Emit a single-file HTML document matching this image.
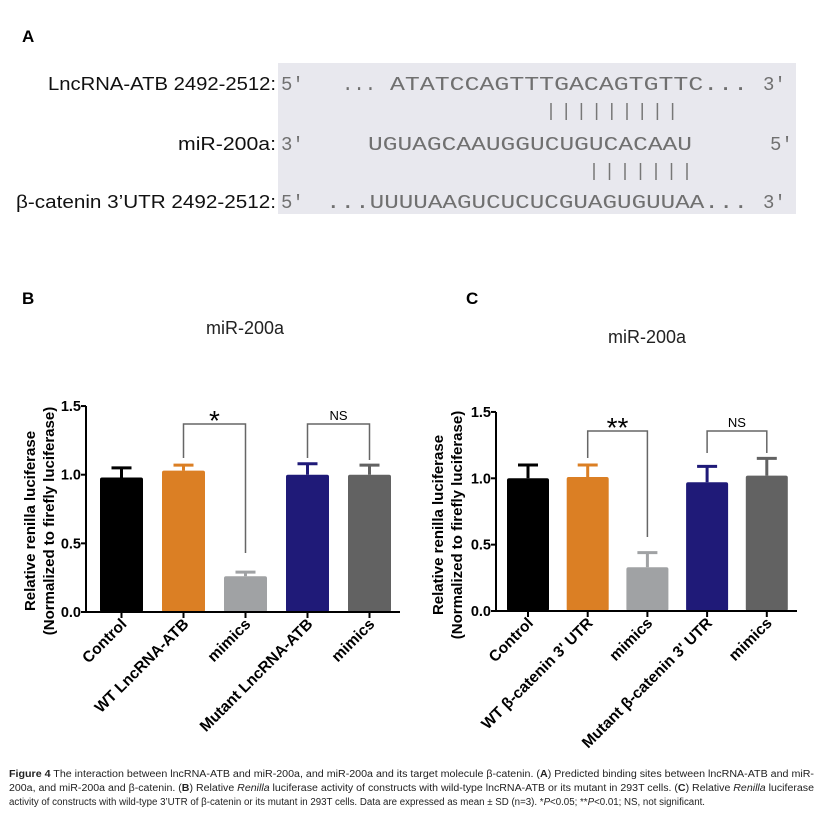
<!DOCTYPE html>
<html><head><meta charset="utf-8"><style>
body{margin:0;background:#fff}
svg{display:block}
text{font-family:"Liberation Sans",sans-serif}
.mono{font-family:"Liberation Mono",monospace;fill:#707070;font-size:19px}
</style></head><body>
<svg id="fig" width="823" height="818" viewBox="0 0 823 818">
<g>
<text x="22" y="42" font-size="17" font-weight="bold">A</text>
<rect x="278" y="63" width="518" height="151" fill="#e8e8ee"/>
<g font-size="18" text-anchor="end" fill="#111">
<text x="276" y="90" textLength="228" lengthAdjust="spacingAndGlyphs">LncRNA-ATB 2492-2512:</text>
<text x="276" y="150" textLength="98" lengthAdjust="spacingAndGlyphs">miR-200a:</text>
<text x="276" y="208" textLength="260" lengthAdjust="spacingAndGlyphs">β-catenin 3’UTR 2492-2512:</text>
</g>
<g class="mono">
<text class="mono" x="281" y="90">5'</text>
<text class="mono" x="342" y="90">...</text>
<text class="mono" x="390" y="90" textLength="358" lengthAdjust="spacingAndGlyphs">ATATCCAGTTTGACAGTGTTC...</text>
<text class="mono" x="763" y="90">3'</text>
<text class="mono" x="281" y="150">3'</text>
<text class="mono" x="368" y="150" textLength="324" lengthAdjust="spacingAndGlyphs">UGUAGCAAUGGUCUGUCACAAU</text>
<text class="mono" x="770" y="150">5'</text>
<text class="mono" x="281" y="208">5'</text>
<text class="mono" x="326" y="208" textLength="422" lengthAdjust="spacingAndGlyphs">...UUUUAAGUCUCUCGUAGUGUUAA...</text>
<text class="mono" x="763" y="208">3'</text>
</g>
<g id="pipes" stroke="#777" stroke-width="1.5"></g>
</g>
<g id="pb"></g>
<g id="pc"></g>
<g font-size="10" fill="#222">
<text x="9" y="777" textLength="805" lengthAdjust="spacingAndGlyphs"><tspan font-weight="bold">Figure 4</tspan> The interaction between lncRNA-ATB and miR-200a, and miR-200a and its target molecule β-catenin. (<tspan font-weight="bold">A</tspan>) Predicted binding sites between lncRNA-ATB and miR-</text>
<text x="9" y="791" textLength="805" lengthAdjust="spacingAndGlyphs">200a, and miR-200a and β-catenin. (<tspan font-weight="bold">B</tspan>) Relative <tspan font-style="italic">Renilla</tspan> luciferase activity of constructs with wild-type lncRNA-ATB or its mutant in 293T cells. (<tspan font-weight="bold">C</tspan>) Relative <tspan font-style="italic">Renilla</tspan> luciferase</text>
<text x="9" y="805" textLength="696" lengthAdjust="spacingAndGlyphs">activity of constructs with wild-type 3’UTR of β-catenin or its mutant in 293T cells. Data are expressed as mean ± SD (n=3). *<tspan font-style="italic">P</tspan>&lt;0.05; **<tspan font-style="italic">P</tspan>&lt;0.01; NS, not significant.</text>
</g>
</svg>
<script>
const catsB = ["Control","WT LncRNA-ATB","mimics","Mutant LncRNA-ATB","mimics"];
const valsB = [0.98,1.03,0.26,1.00,1.00];
const errsB = [0.07,0.04,0.03,0.08,0.07];
const catsC = ["Control","WT β-catenin 3' UTR","mimics","Mutant β-catenin 3' UTR","mimics"];
const valsC = [1.00,1.01,0.33,0.97,1.02];
const errsC = [0.10,0.09,0.11,0.12,0.13];
const ticks = [0,0.5,1.0,1.5];
const tickLabels = ["0.0","0.5","1.0","1.5"];
const colors = ["#000000","#db7f24","#a0a2a4","#1f1a78","#626262"];
const NS="http://www.w3.org/2000/svg";
function mk(p,t,a){const e=document.createElementNS(NS,t);for(const k in a)e.setAttribute(k,a[k]);p.appendChild(e);return e;}
const pg=document.getElementById('pipes');
for(let i=0;i<9;i++){const l=mk(pg,'line',{x1:551+i*15.2,x2:551+i*15.2,y1:103,y2:120});

}
for(let i=0;i<7;i++){const l=mk(pg,'line',{x1:594+i*15.5,x2:594+i*15.5,y1:163,y2:180});

}
function panel(g,o,cats,vals,errs){
  const y=v=>o.y0-v*o.k;
  const x=i=>o.x0+o.first+i*o.step;
  let e=mk(g,'text',{x:o.lx,y:o.ly,'font-size':17,'font-weight':'bold'});e.textContent=o.label;
  
  
  e=mk(g,'text',{x:o.tx,y:o.ty,'font-size':18,'text-anchor':'middle',fill:'#222'});e.textContent='miR-200a';
  
  
  const yt=mk(g,'text',{transform:`translate(${o.ytx},${o.yty}) rotate(-90)`,'font-size':15,'font-weight':'bold','text-anchor':'middle'});
  
  
  mk(yt,'tspan',{x:0,dy:0}).textContent='Relative renilla luciferase';
  mk(yt,'tspan',{x:0,dy:19}).textContent='(Normalized to firefly luciferase)';
  cats.forEach((c,i)=>{
    const cx=x(i),top=y(vals[i]+errs[i]);
    const b=mk(g,'rect',{x:cx-o.bw/2,y:y(vals[i]),width:o.bw,height:y(0)-y(vals[i]),fill:colors[i],rx:2});
    
    
    const eb=mk(g,'path',{d:`M${cx},${y(vals[i])}V${top}M${cx-10},${top}H${cx+10}`,stroke:colors[i],'stroke-width':3,fill:'none'});
    
    
    mk(g,'line',{x1:cx,x2:cx,y1:y(0),y2:y(0)+6,stroke:'#000','stroke-width':2});
    const t=mk(g,'text',{transform:`translate(${cx+6},${y(0)+13}) rotate(-45)`,'font-size':15.5,'font-weight':'bold','text-anchor':'end'});
    t.textContent=c;
    
    
  });
  const ax=mk(g,'path',{d:`M${o.x0},${y(1.5)}V${y(0)}H${o.xe}`,stroke:'#000','stroke-width':2,fill:'none'});
  
  
  ticks.forEach((v,i)=>{
    mk(g,'line',{x1:o.x0-5,x2:o.x0,y1:y(v),y2:y(v),stroke:'#000','stroke-width':2});
    const t=mk(g,'text',{x:o.x0-5,y:y(v)+5,'font-size':14.5,'font-weight':'bold','text-anchor':'end'});
    t.textContent=tickLabels[i];
    
    
  });
  [[1,2,o.sig,o.br1,20],[3,4,'NS',o.br2,13]].forEach(([a,b,lab,d,fs])=>{
    const p=mk(g,'path',{d:`M${x(a)},${d[1]}V${d[0]}H${x(b)}V${d[2]}`,stroke:'#666','stroke-width':1.5,fill:'none'});
    
    
    const t=mk(g,'text',{x:(x(a)+x(b))/2,y:d[0]-(fs>15?-6:4),'font-size':fs>15?28:13,'text-anchor':'middle'});
    t.textContent=lab;
    
    
  });
}
panel(document.getElementById('pb'),{label:'B',x0:86,y0:612,k:137.3,xe:400,first:35.5,step:62,bw:43,lx:22,ly:304,tx:245,ty:334,ytx:35,yty:521,sig:'*',br1:[424,458,553],br2:[424,458,460]},catsB,valsB,errsB);
panel(document.getElementById('pc'),{label:'C',x0:496,y0:611,k:132.7,xe:797,first:32,step:59.7,bw:42,lx:466,ly:304,tx:647,ty:343,ytx:443,yty:525,sig:'**',br1:[431,458,537],br2:[431,453,453]},catsC,valsC,errsC);
</script>
</body></html>
